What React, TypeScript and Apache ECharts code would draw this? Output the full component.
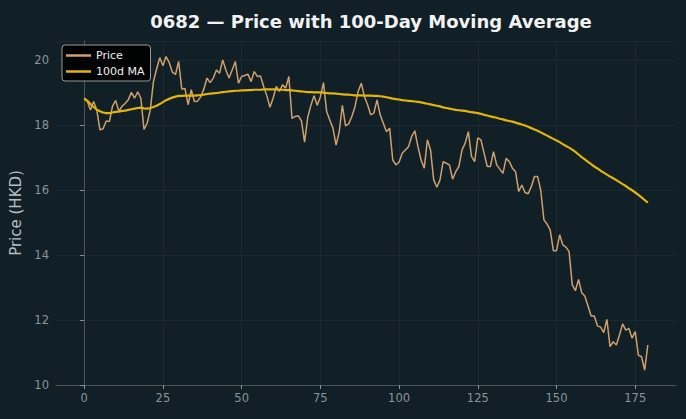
import React, { useEffect, useRef } from "react";
import * as echarts from "echarts";

// Trading-day index (0 = first day in the window)
const dayIndex: number[] = Array.from({ length: 180 }, (_, i) => i);

// Daily closing price, HKD
const closePrice: number[] = [
  18.8, 18.72, 18.46, 18.72, 18.46, 17.85, 17.88, 18.12, 18.1, 18.58,
  18.75, 18.42, 18.57, 18.66, 18.77, 19.0, 18.82, 19.02, 18.82, 17.86,
  18.05, 18.46, 19.33, 19.72, 20.07, 19.82, 20.1, 19.92, 19.62, 19.55,
  19.95, 19.1, 19.12, 18.62, 19.08, 18.72, 18.73, 18.86, 19.1, 19.44,
  19.3, 19.44, 19.69, 19.59, 20.0, 19.69, 19.44, 19.69, 19.95, 19.28,
  19.49, 19.52, 19.56, 19.33, 19.64, 19.49, 19.5, 19.18, 18.9, 18.54,
  18.82, 19.18, 19.03, 19.23, 19.13, 19.49, 18.2, 18.26, 18.28, 18.12,
  17.47, 18.24, 18.6, 18.9, 18.6, 18.86, 19.3, 18.41, 18.15, 17.9,
  17.38, 17.79, 18.6, 17.97, 18.03, 18.26, 18.56, 19.03, 19.28, 18.87,
  18.62, 18.31, 18.36, 18.77, 18.31, 18.05, 17.79, 17.9, 16.92, 16.77,
  16.85, 17.13, 17.23, 17.33, 17.64, 17.82, 17.33, 16.92, 16.67, 17.54,
  17.23, 16.31, 16.08, 16.31, 16.87, 16.82, 16.77, 16.33, 16.56, 16.72,
  17.23, 17.44, 17.79, 17.03, 16.87, 17.6, 17.54, 17.13, 16.72, 16.72,
  17.18, 16.77, 16.64, 16.51, 16.97, 16.87, 16.67, 16.56, 15.95, 16.15,
  15.92, 15.88, 16.1, 16.41, 16.41, 15.99, 15.08, 14.95, 14.77, 14.13,
  14.13, 14.62, 14.31, 14.24, 14.1, 13.08, 12.9, 13.25, 12.84, 12.74,
  12.43, 12.12, 12.12, 11.82, 11.78, 11.61, 12.02, 11.18, 11.33, 11.23,
  11.54, 11.88, 11.69, 11.74, 11.44, 11.64, 10.92, 10.87, 10.46, 11.23,
];

// 100-day simple moving average of the close, HKD
const movingAvg100: number[] = [
  18.82, 18.74, 18.64, 18.55, 18.47, 18.42, 18.38, 18.36, 18.36, 18.38,
  18.4, 18.41, 18.43, 18.44, 18.46, 18.48, 18.5, 18.52, 18.53, 18.51,
  18.5, 18.52, 18.55, 18.59, 18.64, 18.7, 18.76, 18.8, 18.84, 18.87,
  18.89, 18.89, 18.9, 18.9, 18.9, 18.9, 18.91, 18.92, 18.93, 18.95,
  18.96, 18.97, 18.98, 18.99, 19.01, 19.02, 19.03, 19.04, 19.05, 19.05,
  19.06, 19.06, 19.07, 19.07, 19.08, 19.08, 19.08, 19.09, 19.09, 19.09,
  19.09, 19.09, 19.08, 19.08, 19.07, 19.07, 19.06, 19.05, 19.04, 19.03,
  19.02, 19.01, 19.01, 19.0, 19.0, 19.0, 18.99, 18.98, 18.97, 18.97,
  18.96, 18.95, 18.94, 18.93, 18.93, 18.92, 18.91, 18.91, 18.91, 18.9,
  18.9, 18.9, 18.89, 18.89, 18.88, 18.87, 18.85, 18.83, 18.81, 18.79,
  18.78, 18.76, 18.75, 18.74, 18.73, 18.72, 18.71, 18.69, 18.67, 18.65,
  18.63, 18.61, 18.59, 18.57, 18.54, 18.52, 18.5, 18.48, 18.46, 18.45,
  18.44, 18.43, 18.41, 18.39, 18.38, 18.36, 18.34, 18.31, 18.29, 18.26,
  18.24, 18.22, 18.19, 18.17, 18.14, 18.12, 18.1, 18.07, 18.04, 18.01,
  17.98, 17.94, 17.9, 17.86, 17.82, 17.77, 17.72, 17.67, 17.62, 17.57,
  17.52, 17.47, 17.41, 17.35, 17.3, 17.24, 17.17, 17.09, 17.01, 16.94,
  16.86, 16.79, 16.72, 16.66, 16.59, 16.53, 16.47, 16.41, 16.36, 16.3,
  16.24, 16.18, 16.12, 16.05, 15.99, 15.92, 15.85, 15.77, 15.69, 15.61,
];

const xTickValues: number[] = [0, 25, 50, 75, 100, 125, 150, 175];

const BG = "#111f26";
const AXIS_GRAY = "#4a5358";
const LABEL_GRAY = "#8b949a";
const GRID_LINE = "rgba(255,255,255,0.045)";
const PRICE_COLOR = "#cfa06d";
const MA_COLOR = "#e3b50c";
const FONT = "DejaVu Sans";

const GRID_LEFT = 56;
const GRID_RIGHT = 10;
const WIDTH = 686;
const HEIGHT = 419;

export default function App() {
  const ref = useRef<HTMLDivElement>(null);

  useEffect(() => {
    if (!ref.current) return;
    const chart = echarts.init(ref.current, undefined, { renderer: "svg" });

    const priceData = dayIndex.map((d, i) => [d, closePrice[i]]);
    const maData = dayIndex.map((d, i) => [d, movingAvg100[i]]);
    // title is centred over the plotting area rather than the whole canvas
    const plotCenterX = GRID_LEFT + (WIDTH - GRID_LEFT - GRID_RIGHT) / 2;

    chart.setOption({
      animation: false,
      backgroundColor: BG,
      textStyle: { fontFamily: FONT },
      title: {
        text: "0682 — Price with 100-Day Moving Average",
        left: plotCenterX,
        textAlign: "center",
        top: 7,
        textStyle: {
          color: "#f2f2f2",
          fontSize: 18,
          fontWeight: "bold",
          fontFamily: FONT,
        },
      },
      legend: {
        orient: "vertical",
        left: 62,
        top: 45,
        backgroundColor: "rgba(0,0,0,0.9)",
        borderColor: "#9a9a9a",
        borderWidth: 1,
        borderRadius: 3,
        padding: [5, 6, 4, 4],
        itemGap: 5,
        itemWidth: 25,
        itemHeight: 2.5,
        textStyle: { color: "#eeeeee", fontSize: 11, fontFamily: FONT },
        data: [
          { name: "Price", icon: "rect", itemStyle: { color: PRICE_COLOR } },
          { name: "100d MA", icon: "rect", itemStyle: { color: MA_COLOR } },
        ],
      },
      grid: { left: GRID_LEFT, right: GRID_RIGHT, top: 41, bottom: 34 },
      xAxis: {
        type: "value",
        min: -8.95,
        max: 187.95,
        axisLine: { show: true, lineStyle: { color: AXIS_GRAY, width: 1 } },
        axisTick: {
          show: true,
          length: 4,
          customValues: xTickValues,
          lineStyle: { color: LABEL_GRAY },
        },
        axisLabel: {
          customValues: xTickValues,
          color: LABEL_GRAY,
          fontSize: 11.5,
          margin: 7,
          fontFamily: FONT,
        },
        splitLine: { show: true, lineStyle: { color: GRID_LINE, width: 1 } },
      },
      yAxis: {
        type: "value",
        min: 10,
        max: 20.58,
        interval: 2,
        name: "Price (HKD)",
        nameLocation: "middle",
        nameGap: 31,
        nameTextStyle: { color: "#b8bec2", fontSize: 15, fontFamily: FONT },
        axisLine: { show: true, lineStyle: { color: AXIS_GRAY, width: 1 } },
        axisTick: { show: true, length: 4, lineStyle: { color: LABEL_GRAY } },
        axisLabel: {
          color: LABEL_GRAY,
          fontSize: 11.5,
          margin: 7,
          showMaxLabel: false,
          fontFamily: FONT,
        },
        splitLine: { show: true, lineStyle: { color: GRID_LINE, width: 1 } },
      },
      series: [
        {
          name: "Price",
          type: "line",
          data: priceData,
          symbol: "none",
          lineStyle: { color: PRICE_COLOR, width: 1.5 },
          itemStyle: { color: PRICE_COLOR },
          z: 2,
        },
        {
          name: "100d MA",
          type: "line",
          data: maData,
          symbol: "none",
          lineStyle: { color: MA_COLOR, width: 2.2 },
          itemStyle: { color: MA_COLOR },
          z: 3,
        },
      ],
    });

    return () => chart.dispose();
  }, []);

  return (
    <div
      ref={ref}
      style={{ position: "fixed", left: 0, top: 0, width: WIDTH, height: HEIGHT }}
    />
  );
}
